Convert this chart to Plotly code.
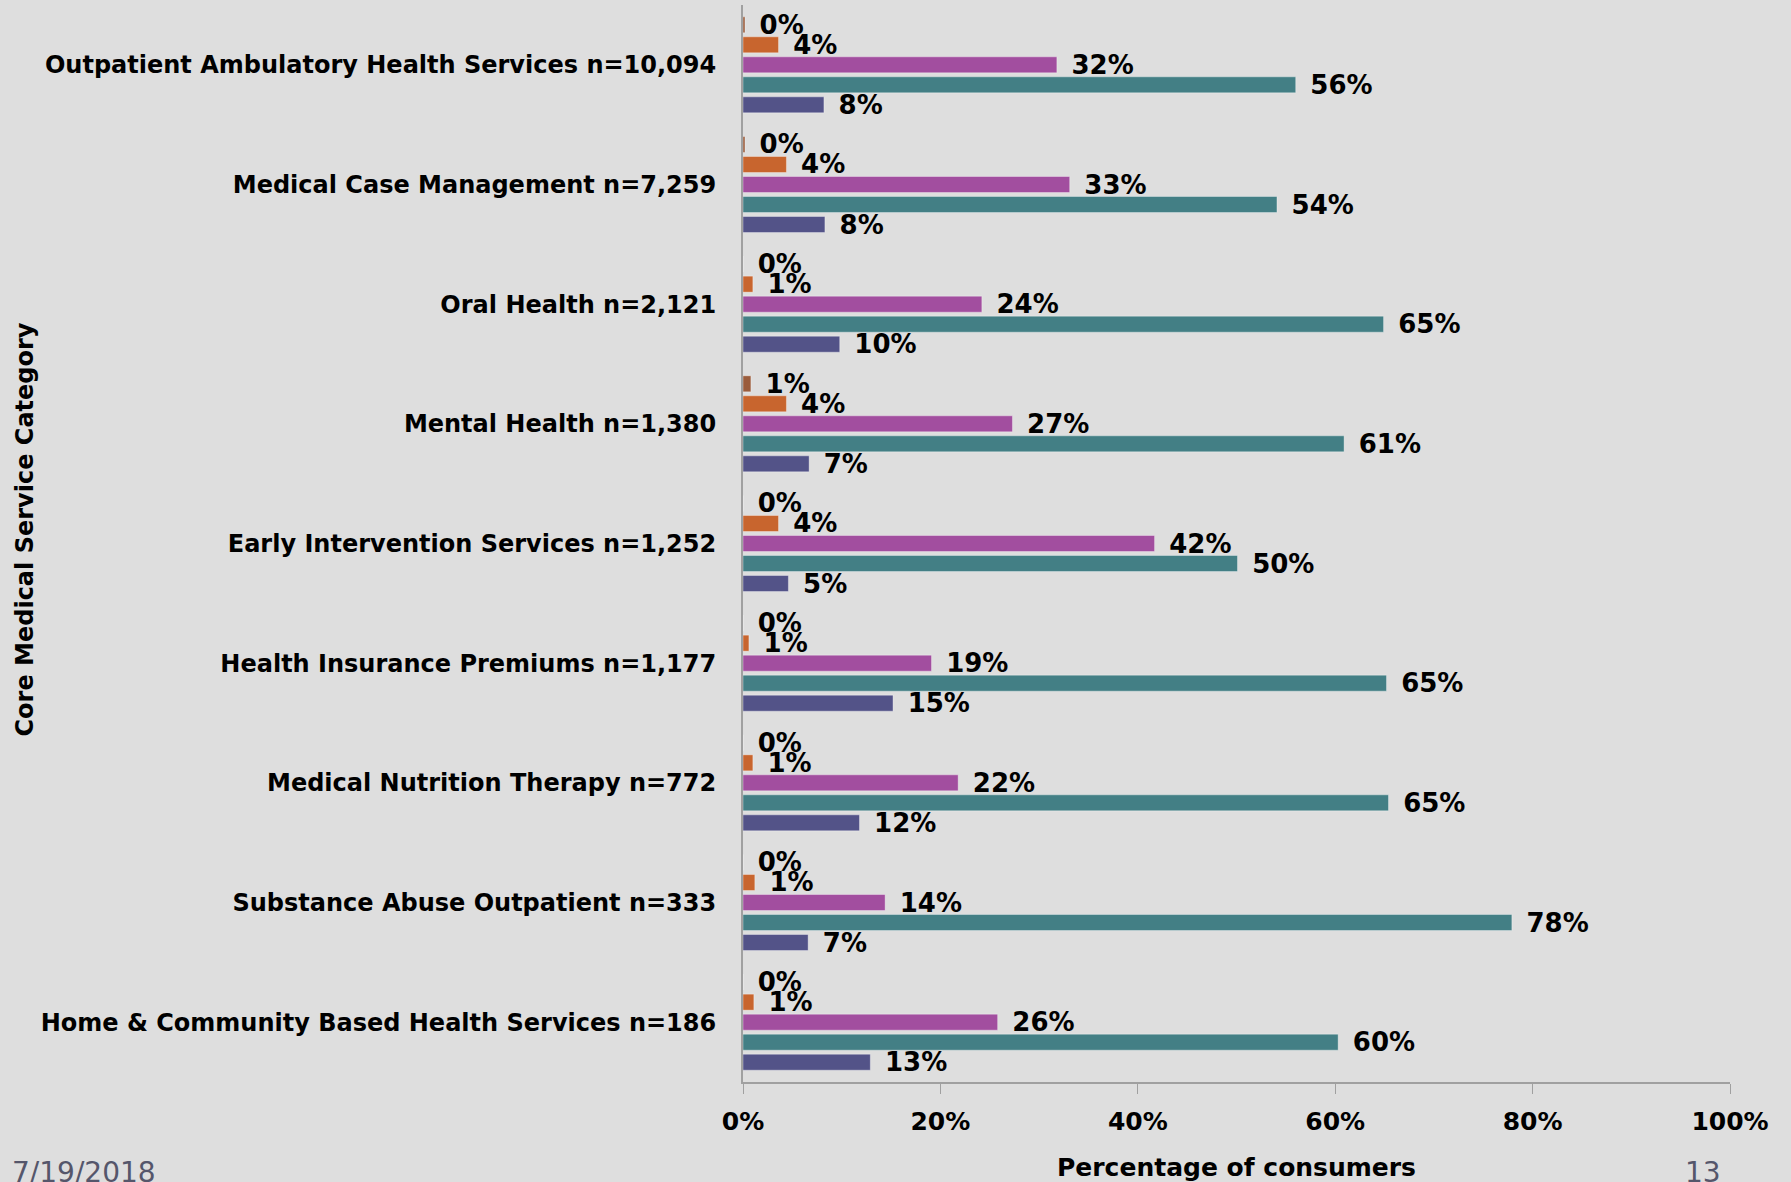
import plotly.graph_objects as go

# Core medical service categories (top to bottom)
categories = [
    "Outpatient Ambulatory Health Services n=10,094",
    "Medical Case Management n=7,259",
    "Oral Health n=2,121",
    "Mental Health n=1,380",
    "Early Intervention Services n=1,252",
    "Health Insurance Premiums n=1,177",
    "Medical Nutrition Therapy n=772",
    "Substance Abuse Outpatient n=333",
    "Home & Community Based Health Services n=186",
]

# Percentage of consumers per response group
series_names = ["Group 1", "Group 2", "Group 3", "Group 4", "Group 5"]
group1 = [0.2, 0.2, 0.0, 0.8, 0.0, 0.0, 0.0, 0.0, 0.0]
group2 = [3.6, 4.4, 1.0, 4.4, 3.6, 0.6, 1.0, 1.2, 1.1]
group3 = [31.8, 33.1, 24.2, 27.3, 41.7, 19.1, 21.8, 14.4, 25.8]
group4 = [56.0, 54.1, 64.9, 60.9, 50.1, 65.2, 65.4, 77.9, 60.3]
group5 = [8.2, 8.3, 9.8, 6.7, 4.6, 15.2, 11.8, 6.6, 12.9]

x_ticks = [0, 20, 40, 60, 80, 100]
x_tick_labels = ["0%", "20%", "40%", "60%", "80%", "100%"]

colors = ["#9a5c3c", "#c8652e", "#a24e9f", "#437f85", "#535388"]
FONT = "DejaVu Sans"
BG = "#dedede"

fig = go.Figure()
for name, vals, col in zip(series_names, [group1, group2, group3, group4, group5], colors):
    fig.add_trace(go.Bar(
        y=categories,
        x=vals,
        name=name,
        orientation="h",
        marker=dict(color=col, line=dict(color="rgba(255,255,255,0.35)", width=1)),
        texttemplate="\u00a0\u200a%{x:.0f}%",
        textposition="outside",
        constraintext="none",
        cliponaxis=False,
        textfont=dict(family=FONT, size=26, color="black", weight="bold"),
    ))

fig.update_layout(
    width=1791,
    height=1182,
    barmode="group",
    bargap=0.164,
    bargroupgap=0.2,
    showlegend=False,
    paper_bgcolor=BG,
    plot_bgcolor=BG,
    margin=dict(l=743, r=61, t=5, b=100),
    font=dict(family=FONT, size=25, color="black"),
    xaxis=dict(
        range=[0, 100],
        tickvals=x_ticks,
        ticktext=x_tick_labels,
        showgrid=False,
        zeroline=False,
        showline=True,
        linecolor="#a0a0a0",
        linewidth=2,
        ticks="outside",
        ticklen=10,
        tickcolor="#a0a0a0",
        ticklabelstandoff=6,
        tickfont=dict(family=FONT, size=25, color="black", weight="bold"),
    ),
    yaxis=dict(
        autorange="reversed",
        showgrid=False,
        showline=True,
        linecolor="#a0a0a0",
        linewidth=2,
        ticks="",
        ticklabelstandoff=20,
        tickfont=dict(family=FONT, size=24, color="black", weight="bold"),
    ),
    annotations=[
        dict(text="Percentage of consumers", xref="paper", yref="paper",
             x=0.5, y=-85 / 1077, xanchor="center", yanchor="middle", showarrow=False,
             font=dict(family=FONT, size=25, color="black", weight="bold")),
        dict(text="Core Medical Service Category", xref="paper", yref="paper",
             x=-718 / 987, y=0.513, xanchor="center", yanchor="middle", textangle=-90,
             showarrow=False, font=dict(family=FONT, size=24, color="black", weight="bold")),
        dict(text="7/19/2018", xref="paper", yref="paper",
             x=-733 / 987, y=-90 / 1077, xanchor="left", yanchor="middle", showarrow=False,
             font=dict(family=FONT, size=28, color="#55566b")),
        dict(text="13", xref="paper", yref="paper",
             x=(1703 - 743) / 987, y=-90 / 1077, xanchor="center", yanchor="middle",
             showarrow=False, font=dict(family=FONT, size=28, color="#55566b")),
    ],
)

fig.write_html("out.html", config={"displayModeBar": False},
               post_script="document.body.style.margin='0';")
